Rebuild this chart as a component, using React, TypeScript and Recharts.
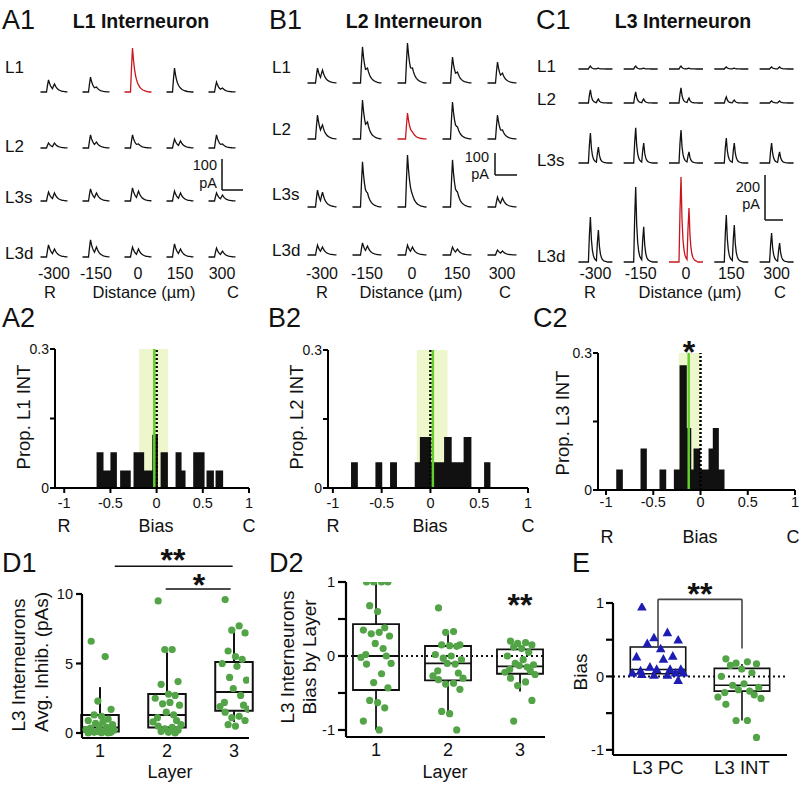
import React from 'react';
import { LineChart, Line, XAxis, YAxis, ComposedChart, Area, Scatter, ReferenceLine, ReferenceArea } from 'recharts';

const FONT = '"Liberation Sans", Arial, Helvetica, sans-serif';
const INK = '#111111';
const RED = '#c8161d';
const GREEN_DOT = '#52a447';
const GREEN_LINE = '#63cf2c';
const SHADE = '#eef7cc';
const BLUE = '#1d1db4';

// ---------- A1 / B1 / C1 : traces ----------
const distances = [-300, -150, 0, 150, 300];
const distanceLabels = ['-300', '-150', '0', '150', '300'];
const rowLabels = ['L1', 'L2', 'L3s', 'L3d'];

// peak amplitudes in pA, [row][column]
const a1Peak1 = [[39, 48, 142, 77, 32], [16, 42, 42, 29, 42], [29, 39, 42, 32, 26], [39, 55, 32, 42, 29]];
const a1Peak2 = [[26, 16, 23, 13, 13], [16, 19, 13, 23, 13], [26, 26, 32, 26, 19], [26, 32, 26, 26, 19]];
const b1Peak1 = [[68, 164, 182, 118, 95], [109, 177, 118, 168, 109], [77, 205, 236, 214, 45], [45, 55, 45, 36, 23]];
const b1Peak2 = [[59, 68, 68, 50, 45], [64, 77, 32, 55, 41], [68, 64, 55, 68, 41], [36, 41, 36, 27, 18]];
const c1Peak1 = [[13, 13, 13, 9, 9], [58, 49, 67, 27, 9], [133, 156, 147, 111, 89], [200, 333, 378, 209, 129]];
const c1Peak2 = [[4, 4, 4, 4, 9], [18, 18, 22, 13, 9], [71, 89, 49, 89, 49], [142, 156, 240, 164, 84]];

// normalised current waveforms
const pulseSlow = [0, 0.55, 1, 0.72, 0.52, 0.38, 0.28, 0.21, 0.16, 0.12, 0.09, 0.07, 0.05, 0.04, 0.03, 0.02, 0.015, 0.01, 0.005, 0];
const pulseFast = [0, 0.6, 1, 0.5, 0.26, 0.14, 0.08, 0.05, 0.03, 0.02, 0.01, 0];

// ---------- A2 / B2 / C2 : histograms ----------
const histTicks = [-1, -0.5, 0, 0.5, 1];
const histTickLabels = ['-1', '-0.5', '0', '0.5', '1'];
const propTicks = [0, 0.15, 0.3];
const propTickLabels = ['0', '', '0.3'];

const a2Edges = [-0.65, -0.575, -0.5, -0.43, -0.395, -0.28, -0.25, -0.135, -0.047, 0.014, 0.043, 0.122, 0.205, 0.27, 0.313, 0.396, 0.519, 0.54, 0.62, 0.638, 0.72];
const a2Heights = [0.077, 0.038, 0.077, 0, 0.038, 0, 0.077, 0.038, 0.115, 0, 0.077, 0, 0.077, 0.038, 0, 0.077, 0, 0.038, 0, 0.038];
const a2Median = -0.025;
const a2Band = [-0.19, 0.125];

const b2Edges = [-0.814, -0.744, -0.564, -0.494, -0.414, -0.343, -0.161, -0.108, 0.007, 0.14, 0.218, 0.34, 0.42, 0.55, 0.615];
const b2Heights = [0.056, 0, 0.056, 0, 0.056, 0, 0.056, 0.111, 0.056, 0.111, 0.056, 0.111, 0, 0.056];
const b2Median = 0.025;
const b2Band = [-0.14, 0.175];

const c2Edges = [-0.892, -0.822, -0.635, -0.568, -0.434, -0.363, -0.282, -0.222, -0.145, -0.098, -0.074, -0.003, 0.085, 0.13, 0.194, 0.254];
const c2Heights = [0.045, 0, 0.091, 0, 0.045, 0, 0.045, 0.273, 0.136, 0.045, 0.091, 0.045, 0.091, 0.136, 0.045];
const c2Median = -0.125;
const c2Band = [-0.23, 0.0];

// ---------- D1 ----------
const layers = [1, 2, 3];
const layerLabels = ['1', '2', '3'];
const d1Points = [
  [6.6, 5.5, 2.3, 1.7, 1.3, 1.2, 1.0, 0.9, 0.8, 0.7, 0.6, 0.5, 0.4, 0.35, 0.3, 0.25, 0.2, 0.15, 0.1, 0.1, 0.05, 0.05, 0.02, 0.0, 0.0],
  [9.5, 6.0, 6.0, 3.7, 3.5, 2.8, 2.7, 2.5, 2.2, 2.1, 2.0, 1.5, 1.3, 1.1, 0.9, 0.8, 0.6, 0.5, 0.4, 0.3, 0.2, 0.1, 0.05, 0.0],
  [9.6, 7.7, 7.4, 7.2, 5.9, 5.5, 5.3, 5.0, 4.8, 4.0, 3.8, 3.2, 2.7, 2.2, 2.0, 1.9, 1.7, 1.5, 1.2, 1.1, 0.9, 0.6, 0.5],
];
const d1Q1 = [0.1, 0.4, 1.6];
const d1Median = [0.4, 1.3, 2.95];
const d1Q3 = [1.3, 2.8, 5.1];
const d1WhiskLo = [0, 0, 0.8];
const d1WhiskHi = [3.3, 5.8, 7.5];
const d1Ticks = [0, 5, 10];

// ---------- D2 ----------
const d2Points = [
  [1, 1, 1, 1, 0.68, 0.6, 0.38, 0.35, 0.32, 0.3, 0.27, 0.17, 0.1, 0.02, 0, -0.02, -0.1, -0.11, -0.24, -0.36, -0.43, -0.6, -0.63, -0.7, -0.88, -1.0],
  [0.65, 0.33, 0.32, 0.15, 0.15, 0.14, 0.13, 0.02, 0.0, -0.03, -0.05, -0.1, -0.11, -0.2, -0.23, -0.27, -0.3, -0.32, -0.37, -0.38, -0.45, -0.75, -0.78, -1.0],
  [0.2, 0.18, 0.17, 0.15, 0.12, 0.1, 0.05, 0, -0.05, -0.1, -0.12, -0.13, -0.15, -0.18, -0.2, -0.22, -0.25, -0.3, -0.35, -0.4, -0.6, -0.88],
];
const d2Q1 = [-0.46, -0.33, -0.24];
const d2Median = [0.0, -0.1, -0.14];
const d2Q3 = [0.43, 0.135, 0.09];
const d2WhiskLo = [-1.0, -0.75, -0.48];
const d2WhiskHi = [1.0, 0.32, 0.18];
const biasTicks = [-1, -0.5, 0, 0.5, 1];
const biasTickLabels = ['-1', '', '0', '', '1'];

// ---------- E ----------
const eGroups = [1, 2];
const eGroupLabels = ['L3 PC', 'L3 INT'];
const ePcPoints = [0.95, 0.6, 0.53, 0.5, 0.45, 0.38, 0.28, 0.27, 0.24, 0.13, 0.1, 0.1, 0.1, 0.08, 0.05, 0.05, 0.05, 0.03, 0.02, 0.02, -0.05];
const eIntPoints = [0.24, 0.2, 0.18, 0.17, 0.15, 0.1, 0.05, 0, -0.1, -0.12, -0.15, -0.18, -0.2, -0.22, -0.25, -0.28, -0.3, -0.38, -0.6, -0.6, -0.83];
const eQ1 = [0.036, -0.2];
const eMedian = [0.095, -0.12];
const eQ3 = [0.4, 0.11];
const eIntWhisk = [-0.6, 0.17];

// horizontal spread pattern for dots (layout only)
const jitterPattern = [-0.6, 0.35, -0.15, 0.75, -0.4, 0.1, 0.55, -0.8, 0.2, -0.3, 0.85, -0.05, 0.45, -0.65, 0.65, -0.95, 0.95];

// ---------------------------------------------------------------
const tickStyle = (size: number) => ({ fontSize: size, fill: INK, fontFamily: FONT });

function buildTrace(center: number, base: number, p1: number, p2: number, cfg: any) {
  const { pulse, onsets, traceW, pxPerUm } = cfg;
  const [s1, s2] = onsets;
  const at = (j: number) => (j >= 0 && j < pulse.length ? pulse[j] : 0);
  const amp2 = Math.max(0, p2 - p1 * at(s2 - s1 + 2));
  const out: any[] = [];
  for (let i = 0; i < traceW; i++) {
    out.push({ x: center + (i - (traceW - 1) / 2) / pxPerUm, y: base + p1 * at(i - s1) + amp2 * at(i - s2) });
  }
  return out;
}

function TracePanel({ cfg }: any) {
  const { plot, zeroPx, pxPerUm, pxPerPA } = cfg;
  const w = plot.r - plot.l;
  const h = plot.b - plot.t;
  const axisH = 24;
  const xDom = [(plot.l - zeroPx) / pxPerUm, (plot.r - zeroPx) / pxPerUm];
  const yDom = [0, h / pxPerPA];
  const lines: any[] = [];
  cfg.peak1.forEach((row: number[], r: number) => {
    const base = (plot.b - cfg.rowBasePx[r]) / pxPerPA;
    row.forEach((p1: number, c: number) => {
      const data = buildTrace(distances[c], base, p1, cfg.peak2[r][c], cfg);
      const red = cfg.red[0] === r && cfg.red[1] === c;
      lines.push(
        <Line key={`t${r}-${c}`} data={data} dataKey="y" type="linear" dot={false} activeDot={false}
          stroke={red ? RED : INK} strokeWidth={1.3} isAnimationActive={false} />
      );
    });
  });
  const bx = (cfg.bar.xPx - zeroPx) / pxPerUm;
  const bx2 = (cfg.bar.xPx + cfg.bar.lenPx - zeroPx) / pxPerUm;
  const by = (plot.b - cfg.bar.yPx) / pxPerPA;
  return (
    <div style={{ position: 'absolute', left: plot.l, top: plot.t }}>
      <LineChart width={w} height={h + axisH} margin={{ top: 0, right: 0, left: 0, bottom: 0 }}>
        <XAxis type="number" dataKey="x" domain={xDom} allowDataOverflow ticks={distances}
          tickFormatter={(v: number) => distanceLabels[distances.indexOf(v)]} interval={0}
          axisLine={false} tickLine={false} tickSize={0} tickMargin={3} height={axisH} tick={tickStyle(16)} />
        <YAxis type="number" domain={yDom} allowDataOverflow hide />
        {lines}
        <ReferenceLine segment={[{ x: bx, y: by }, { x: bx, y: by + cfg.bar.pA }]} stroke={INK} strokeWidth={1.5} ifOverflow="visible" />
        <ReferenceLine segment={[{ x: bx, y: by }, { x: bx2, y: by }]} stroke={INK} strokeWidth={1.5} ifOverflow="visible" />
      </LineChart>
    </div>
  );
}

function HistPanel({ cfg }: any) {
  const { plot } = cfg;
  const yW = cfg.yW;
  const mt = 10, mr = 10, xH = 30;
  const data = cfg.edges.map((e: number, i: number) => ({ x: e, y: i < cfg.heights.length ? cfg.heights[i] : 0 }));
  const axisStroke = { stroke: '#000', strokeWidth: 2 };
  return (
    <div style={{ position: 'absolute', left: plot.l - yW, top: plot.t - mt }}>
      <ComposedChart width={plot.r - plot.l + yW + mr} height={plot.b - plot.t + mt + xH}
        margin={{ top: mt, right: mr, left: 0, bottom: 0 }} data={data}>
        <XAxis type="number" dataKey="x" domain={cfg.xDomain} allowDataOverflow ticks={histTicks} interval={0}
          tickFormatter={(v: number) => histTickLabels[histTicks.indexOf(v)]}
          axisLine={axisStroke} tickLine={axisStroke} tickSize={5} tickMargin={cfg.xTickMargin} height={xH} tick={tickStyle(14.5)} />
        <YAxis type="number" dataKey="y" domain={[0, 0.3]} allowDataOverflow ticks={propTicks} interval={0}
          tickFormatter={(v: number) => propTickLabels[propTicks.indexOf(v)]}
          axisLine={axisStroke} tickLine={axisStroke} tickSize={5} tickMargin={1} width={yW} tick={tickStyle(14)} />
        <ReferenceArea x1={cfg.band[0]} x2={cfg.band[1]} y1={0} y2={0.3} fill={SHADE} fillOpacity={1} stroke="none" />
        <Area type="stepAfter" dataKey="y" fill={INK} fillOpacity={1} stroke="none" isAnimationActive={false} dot={false} activeDot={false} />
        <ReferenceLine x={0} stroke="#000" strokeWidth={2.5} strokeDasharray="2 2" />
        <ReferenceLine x={cfg.median} stroke={GREEN_LINE} strokeWidth={2.5} />
      </ComposedChart>
    </div>
  );
}

function boxElements(xs: number[], q1: number[], med: number[], q3: number[], lo: (number | null)[], hi: (number | null)[], hw: number, sw: number) {
  const els: any[] = [];
  xs.forEach((x, i) => {
    els.push(<ReferenceArea key={`ba${i}`} x1={x - hw} x2={x + hw} y1={q1[i]} y2={q3[i]} fill="none" fillOpacity={0} stroke={INK} strokeWidth={sw} ifOverflow="visible" />);
    els.push(<ReferenceLine key={`bm${i}`} segment={[{ x: x - hw, y: med[i] }, { x: x + hw, y: med[i] }]} stroke={INK} strokeWidth={sw} ifOverflow="visible" />);
    if (hi[i] != null) els.push(<ReferenceLine key={`bh${i}`} segment={[{ x, y: q3[i] }, { x, y: hi[i] as number }]} stroke={INK} strokeWidth={sw} ifOverflow="visible" />);
    if (lo[i] != null) els.push(<ReferenceLine key={`bl${i}`} segment={[{ x, y: q1[i] }, { x, y: lo[i] as number }]} stroke={INK} strokeWidth={sw} ifOverflow="visible" />);
  });
  return els;
}

const GreenDot = (p: any) => <circle cx={p.cx} cy={p.cy} r={3.6} fill={GREEN_DOT} />;
const BlueTri = (p: any) => {
  const s = 4.8;
  return <path d={`M${p.cx},${p.cy - s} L${p.cx + s},${p.cy + s * 0.8} L${p.cx - s},${p.cy + s * 0.8} Z`} fill={BLUE} />;
};

function spread(values: number[], center: number, amount: number) {
  return values.map((v, i) => ({ x: center + jitterPattern[i % jitterPattern.length] * amount, y: v }));
}

function BoxPanel({ cfg, children }: any) {
  const { plot } = cfg;
  const mt = 45, mr = 8, xH = 30;
  const axisStroke = { stroke: '#000', strokeWidth: 2.2 };
  return (
    <div style={{ position: 'absolute', left: plot.l - cfg.yW, top: plot.t - mt }}>
      <ComposedChart width={plot.r - plot.l + cfg.yW + mr} height={plot.b - plot.t + mt + xH}
        margin={{ top: mt, right: mr, left: 0, bottom: 0 }}>
        <XAxis type="number" dataKey="x" domain={cfg.xDomain} allowDataOverflow ticks={cfg.xTicks} interval={0}
          tickFormatter={(v: number) => cfg.xLabels[cfg.xTicks.indexOf(v)]}
          axisLine={axisStroke} tickLine={false} tickSize={5} tickMargin={cfg.xTickMargin} height={xH} tick={tickStyle(cfg.xFont)} />
        <YAxis type="number" dataKey="y" domain={cfg.yDomain} allowDataOverflow ticks={cfg.yTicks} interval={0}
          tickFormatter={(v: number) => cfg.yLabels[cfg.yTicks.indexOf(v)]}
          axisLine={axisStroke} tickLine={axisStroke} tickSize={cfg.yTickSize} tickMargin={cfg.yTickMargin} width={cfg.yW} tick={tickStyle(14.5)} />
        {children}
      </ComposedChart>
    </div>
  );
}

const traceA1 = { plot: { l: 20, t: 40, r: 262, b: 265 }, zeroPx: 138, pxPerUm: 0.28, pxPerPA: 0.31, rowBasePx: [92, 148, 201, 257], traceW: 28, onsets: [6, 12], pulse: pulseSlow, peak1: a1Peak1, peak2: a1Peak2, red: [0, 2], bar: { xPx: 222, yPx: 190, pA: 100, lenPx: 21 } };
const traceB1 = { plot: { l: 290, t: 40, r: 530, b: 265 }, zeroPx: 412, pxPerUm: 0.3, pxPerPA: 0.22, rowBasePx: [83, 139, 207, 255], traceW: 30, onsets: [8, 13], pulse: pulseSlow, peak1: b1Peak1, peak2: b1Peak2, red: [1, 2], bar: { xPx: 495, yPx: 175, pA: 100, lenPx: 22 } };
const traceC1 = { plot: { l: 555, t: 40, r: 800, b: 265 }, zeroPx: 686, pxPerUm: 0.302, pxPerPA: 0.225, rowBasePx: [69, 103, 163, 262], traceW: 35, onsets: [10, 18], pulse: pulseFast, peak1: c1Peak1, peak2: c1Peak2, red: [3, 2], bar: { xPx: 765, yPx: 220, pA: 200, lenPx: 18 } };

const histA2 = { plot: { l: 55, t: 349, r: 249, b: 488 }, yW: 55, xDomain: [-1.1, 1], edges: a2Edges, heights: a2Heights, median: a2Median, band: a2Band, xTickMargin: 5 };
const histB2 = { plot: { l: 328, t: 350, r: 528, b: 488 }, yW: 45, xDomain: [-1.05, 1], edges: b2Edges, heights: b2Heights, median: b2Median, band: b2Band, xTickMargin: 5 };
const histC2 = { plot: { l: 598, t: 353, r: 795, b: 490 }, yW: 45, xDomain: [-1.085, 1], edges: c2Edges, heights: c2Heights, median: c2Median, band: c2Band, xTickMargin: 2 };

const boxD1 = { plot: { l: 82, t: 594, r: 249, b: 738 }, yW: 82, xDomain: [0.731, 3.224], yDomain: [-0.36, 10], xTicks: layers, xLabels: layerLabels, yTicks: d1Ticks, yLabels: ['0', '5', '10'], yTickSize: 6, yTickMargin: 3, xFont: 18, xTickMargin: 1 };
const boxD2 = { plot: { l: 346, t: 582, r: 545, b: 737 }, yW: 50, xDomain: [0.583, 3.347], yDomain: [-1.095, 1], xTicks: layers, xLabels: layerLabels, yTicks: biasTicks, yLabels: biasTickLabels, yTickSize: 8, yTickMargin: 3, xFont: 18, xTickMargin: 1 };
const boxE = { plot: { l: 613, t: 603, r: 787, b: 755 }, yW: 40, xDomain: [0.464, 2.536], yDomain: [-1.07, 1], xTicks: eGroups, xLabels: eGroupLabels, yTicks: biasTicks, yLabels: biasTickLabels, yTickSize: 7, yTickMargin: 2, xFont: 18.5, xTickMargin: 1 };

type T = { t: string; x: number; y: number; s: number; a?: string; b?: boolean; r?: boolean };
const texts: T[] = [
  { t: 'A1', x: 2, y: 29, s: 27 }, { t: 'B1', x: 269, y: 29, s: 27 }, { t: 'C1', x: 536, y: 29, s: 27 },
  { t: 'A2', x: 2, y: 327, s: 27 }, { t: 'B2', x: 268, y: 327, s: 27 }, { t: 'C2', x: 533, y: 327, s: 27 },
  { t: 'D1', x: 2, y: 572, s: 27 }, { t: 'D2', x: 269, y: 572, s: 27 }, { t: 'E', x: 572, y: 572, s: 27 },
  { t: 'L1 Interneuron', x: 141, y: 28, s: 19.5, a: 'middle', b: true },
  { t: 'L2 Interneuron', x: 414, y: 28, s: 19.5, a: 'middle', b: true },
  { t: 'L3 Interneuron', x: 683, y: 28, s: 19.5, a: 'middle', b: true },
  { t: '100', x: 217, y: 170, s: 14.5, a: 'end' }, { t: 'pA', x: 217, y: 188, s: 14.5, a: 'end' },
  { t: '100', x: 489, y: 162, s: 14.5, a: 'end' }, { t: 'pA', x: 489, y: 179, s: 14.5, a: 'end' },
  { t: '200', x: 760, y: 192, s: 14.5, a: 'end' }, { t: 'pA', x: 760, y: 209, s: 14.5, a: 'end' },
  { t: 'Prop. L1 INT', x: 24, y: 417, s: 18.5, r: true },
  { t: 'Prop. L2 INT', x: 297, y: 417, s: 18.5, r: true },
  { t: 'Prop. L3 INT', x: 563, y: 423, s: 18.5, r: true },
  { t: '*', x: 689, y: 363, s: 32, a: 'middle', b: true },
  { t: '**', x: 173, y: 571, s: 32, a: 'middle', b: true },
  { t: '*', x: 199, y: 596, s: 32, a: 'middle', b: true },
  { t: '**', x: 520, y: 616, s: 32, a: 'middle', b: true },
  { t: '**', x: 700, y: 605, s: 32, a: 'middle', b: true },
  { t: 'L3 Interneurons', x: 18, y: 665, s: 19, r: true },
  { t: 'Avg. Inhib. (pAs)', x: 41, y: 662, s: 19, r: true },
  { t: 'L3 Interneurons', x: 287, y: 657, s: 19, r: true },
  { t: 'Bias by Layer', x: 309, y: 657, s: 19, r: true },
  { t: 'Bias', x: 580, y: 672, s: 19, r: true },
  { t: 'Layer', x: 170, y: 778, s: 18, a: 'middle' },
  { t: 'Layer', x: 445, y: 778, s: 18, a: 'middle' },
];
const rowLabelPos = [
  { x: 5, ys: [73, 152, 203, 259] },
  { x: 272, ys: [73, 135, 200, 256] },
  { x: 537, ys: [72, 105, 166, 262] },
];
const distanceRows = [
  { r: 50, d: 144, c: 233, y: 298 },
  { r: 322, d: 411, c: 505, y: 298 },
  { r: 590, d: 690, c: 780, y: 298 },
];
const biasRows = [
  { r: 64, d: 156, c: 249, y: 532 },
  { r: 333, d: 430, c: 528, y: 532 },
  { r: 607, d: 700, c: 793, y: 543 },
];

function Overlay() {
  const els: any[] = [];
  texts.forEach((t, i) => {
    if (t.r) {
      els.push(<text key={`tx${i}`} transform={`translate(${t.x},${t.y}) rotate(-90)`} textAnchor="middle" dy="0.35em" fontSize={t.s}>{t.t}</text>);
    } else {
      els.push(<text key={`tx${i}`} x={t.x} y={t.y} fontSize={t.s} textAnchor={t.a || 'start'} fontWeight={t.b ? 'bold' : 'normal'}>{t.t}</text>);
    }
  });
  rowLabelPos.forEach((p, k) => p.ys.forEach((y, j) => {
    els.push(<text key={`rl${k}-${j}`} x={p.x} y={y} fontSize={17}>{rowLabels[j]}</text>);
  }));
  distanceRows.forEach((d, k) => {
    els.push(<text key={`dr${k}`} x={d.r} y={d.y} fontSize={16.5} textAnchor="middle">R</text>);
    els.push(<text key={`dd${k}`} x={d.d} y={d.y} fontSize={16.5} textAnchor="middle">Distance (µm)</text>);
    els.push(<text key={`dc${k}`} x={d.c} y={d.y} fontSize={16.5} textAnchor="middle">C</text>);
  });
  biasRows.forEach((d, k) => {
    els.push(<text key={`br${k}`} x={d.r} y={d.y} fontSize={18} textAnchor="middle">R</text>);
    els.push(<text key={`bb${k}`} x={d.d} y={d.y} fontSize={18} textAnchor="middle">Bias</text>);
    els.push(<text key={`bc${k}`} x={d.c} y={d.y} fontSize={18} textAnchor="middle">C</text>);
  });
  return (
    <svg width={802} height={785} style={{ position: 'absolute', left: 0, top: 0, pointerEvents: 'none' }} fontFamily={FONT} fill={INK}>
      {els}
    </svg>
  );
}

export default function App() {
  const d1Scatter = layers.flatMap((x, i) => spread(d1Points[i], x, 0.22));
  const d2Scatter = layers.flatMap((x, i) => spread(d2Points[i], x, 0.22));
  const ePc = spread(ePcPoints, eGroups[0], 0.32);
  const eInt = spread(eIntPoints, eGroups[1] - 0.03, 0.27);
  const sig = { stroke: INK, strokeWidth: 1.6, ifOverflow: 'visible' as const };
  const bracket = { stroke: '#444', strokeWidth: 1.6, ifOverflow: 'visible' as const };
  return (
    <div style={{ position: 'absolute', left: 0, top: 0, width: 802, height: 785, background: '#fff', fontFamily: FONT }}>
      <TracePanel cfg={traceA1} />
      <TracePanel cfg={traceB1} />
      <TracePanel cfg={traceC1} />
      <HistPanel cfg={histA2} />
      <HistPanel cfg={histB2} />
      <HistPanel cfg={histC2} />
      <BoxPanel cfg={boxD1}>
        {boxElements(layers, d1Q1, d1Median, d1Q3, d1WhiskLo, d1WhiskHi, 0.28, 2)}
        <ReferenceLine segment={[{ x: 1.22, y: 12.0 }, { x: 2.98, y: 12.0 }]} {...sig} />
        <ReferenceLine segment={[{ x: 1.98, y: 10.36 }, { x: 2.95, y: 10.36 }]} {...sig} />
        <Scatter data={d1Scatter} dataKey="y" shape={GreenDot} isAnimationActive={false} />
      </BoxPanel>
      <BoxPanel cfg={boxD2}>
        <ReferenceLine y={0} stroke={INK} strokeWidth={2} strokeDasharray="2 3" />
        {boxElements(layers, d2Q1, d2Median, d2Q3, d2WhiskLo, d2WhiskHi, 0.32, 1.8)}
        <Scatter data={d2Scatter} dataKey="y" shape={GreenDot} isAnimationActive={false} />
      </BoxPanel>
      <BoxPanel cfg={boxE}>
        <ReferenceLine y={0} stroke={INK} strokeWidth={2} strokeDasharray="2 3" />
        {boxElements(eGroups, eQ1, eMedian, eQ3, [null, eIntWhisk[0]], [null, eIntWhisk[1]], 0.33, 1.6)}
        <ReferenceLine segment={[{ x: 1, y: 1.05 }, { x: 2, y: 1.05 }]} {...bracket} />
        <ReferenceLine segment={[{ x: 1, y: eQ3[0] }, { x: 1, y: 1.05 }]} {...bracket} />
        <ReferenceLine segment={[{ x: 2, y: 0.38 }, { x: 2, y: 1.05 }]} {...bracket} />
        <Scatter data={ePc} dataKey="y" shape={BlueTri} isAnimationActive={false} />
        <Scatter data={eInt} dataKey="y" shape={GreenDot} isAnimationActive={false} />
      </BoxPanel>
      <Overlay />
    </div>
  );
}
